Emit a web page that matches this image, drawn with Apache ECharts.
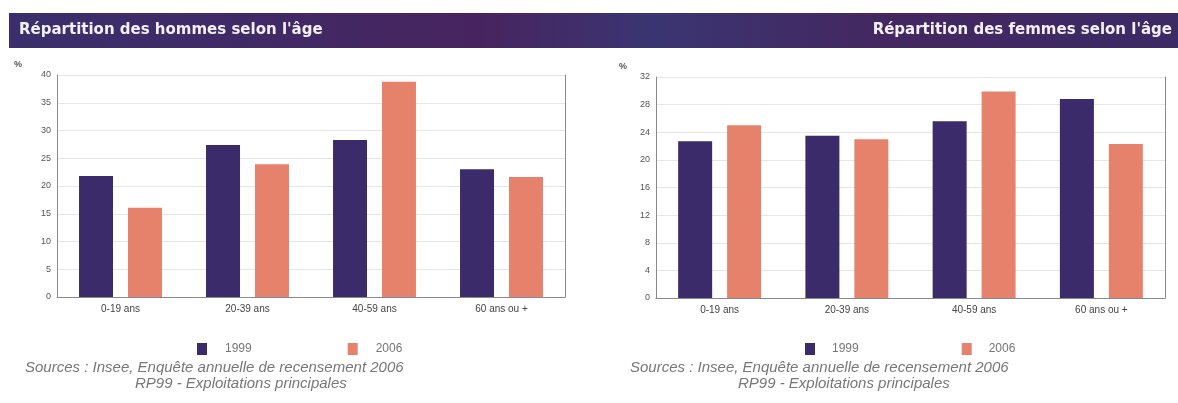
<!DOCTYPE html>
<html>
<head>
<meta charset="utf-8">
<script src="https://cdn.jsdelivr.net/npm/echarts@6/dist/echarts.min.js"></script>
<style>
html,body{margin:0;padding:0;background:#fff;}
#chart{width:1178px;height:403px;}
</style>
</head>
<body>
<div id="chart"></div>
<script>
// ---- data ----
const categoriesMen = ['0-19 ans', '20-39 ans', '40-59 ans', '60 ans ou +'];
const categoriesWomen = ['0-19 ans', '20-39 ans', '40-59 ans', '60 ans ou +'];
const seriesNames = ['1999', '2006'];
const men1999 = [21.8, 27.4, 28.3, 23.0];
const men2006 = [16.1, 23.9, 38.8, 21.6];
const women1999 = [22.7, 23.5, 25.6, 28.8];
const women2006 = [25.0, 23.0, 29.9, 22.3];
const titleMen = "Répartition des hommes selon l'âge";
const titleWomen = "Répartition des femmes selon l'âge";
const sourceLine1 = 'Sources : Insee, Enquête annuelle de recensement 2006';
const sourceLine2 = 'RP99 - Exploitations principales';

const COL_1999 = '#3b2b6b';
const COL_2006 = '#e6826b';

const chart = echarts.init(document.getElementById('chart'), null, {renderer: 'canvas'});

function yAxisBase(gridIndex, max, interval) {
  return {
    type: 'value', gridIndex: gridIndex, min: 0, max: max, interval: interval,
    axisLine: {show: true, lineStyle: {color: '#8a8a8a', width: 1}},
    axisTick: {show: false},
    axisLabel: {color: '#555', fontSize: 9, fontFamily: 'Liberation Sans', margin: 6},
    splitLine: {show: true, lineStyle: {color: '#e6e6e6', width: 1}}
  };
}
function yAxisRight(gridIndex, max, interval) {
  return {
    type: 'value', gridIndex: gridIndex, position: 'right', min: 0, max: max, interval: interval,
    axisLine: {show: true, lineStyle: {color: '#8a8a8a', width: 1}},
    axisTick: {show: false}, axisLabel: {show: false}, splitLine: {show: false}
  };
}
function xAxisBase(gridIndex, cats) {
  return {
    type: 'category', gridIndex: gridIndex, data: cats,
    axisLine: {show: true, lineStyle: {color: '#8a8a8a', width: 1}},
    axisTick: {show: false},
    axisLabel: {color: '#444', fontSize: 10, fontFamily: 'Liberation Sans', margin: 7}
  };
}
function bar(name, data, xi, yi, color) {
  return {
    name: name, type: 'bar', xAxisIndex: xi, yAxisIndex: yi, data: data,
    barWidth: 34, barGap: '44%', itemStyle: {color: color}, silent: true
  };
}
function legend(left, gap, pad, size) {
  return {
    left: left, top: 338, orient: 'horizontal', itemWidth: 10, itemHeight: 12, itemGap: gap,
    icon: 'rect', data: seriesNames, selectedMode: false,
    textStyle: {color: '#777', fontSize: size, fontFamily: 'Liberation Sans', padding: [0, 0, 0, pad]}
  };
}

const option = {
  backgroundColor: '#fff',
  animation: false,
  graphic: [
    {
      type: 'rect', z: 0, silent: true,
      shape: {x: 9, y: 13, width: 1169, height: 35},
      style: {
        fill: new echarts.graphic.LinearGradient(0, 0, 1, 0, [
          {offset: 0, color: '#3a2f6c'},
          {offset: 0.2, color: '#402a66'},
          {offset: 0.4, color: '#47245f'},
          {offset: 0.55, color: '#3a3572'},
          {offset: 0.75, color: '#442760'},
          {offset: 1, color: '#3c2a65'}
        ])
      }
    },
    {type: 'text', z: 5, left: 14, top: 60, silent: true,
     style: {text: '%', fill: '#555', font: 'bold 9px "Liberation Sans"'}},
    {type: 'text', z: 5, left: 619, top: 62, silent: true,
     style: {text: '%', fill: '#555', font: 'bold 9px "Liberation Sans"'}},
    {type: 'text', z: 5, left: 25, top: 360, silent: true,
     style: {text: sourceLine1, fill: '#777', font: 'italic 15px "Liberation Sans"'}},
    {type: 'text', z: 5, left: 135, top: 376, silent: true,
     style: {text: sourceLine2, fill: '#777', font: 'italic 15px "Liberation Sans"'}},
    {type: 'text', z: 5, left: 630, top: 360, silent: true,
     style: {text: sourceLine1, fill: '#777', font: 'italic 15px "Liberation Sans"'}},
    {type: 'text', z: 5, left: 738, top: 376, silent: true,
     style: {text: sourceLine2, fill: '#777', font: 'italic 15px "Liberation Sans"'}}
  ],
  title: [
    {text: titleMen, left: 19, top: 23, z: 10, padding: 0,
     textStyle: {color: '#f4f0f8', fontSize: 15, fontWeight: 'bold', fontFamily: 'DejaVu Sans'}},
    {text: titleWomen, right: 6, top: 23, z: 10, padding: 0,
     textStyle: {color: '#f4f0f8', fontSize: 15, fontWeight: 'bold', fontFamily: 'DejaVu Sans'}}
  ],
  legend: [legend(192, 96, 13, 12), legend(800, 103, 12, 12)],
  grid: [
    {left: 57, right: 613, top: 75, bottom: 106},
    {left: 656, right: 13, top: 77, bottom: 105}
  ],
  xAxis: [xAxisBase(0, categoriesMen), xAxisBase(1, categoriesWomen)],
  yAxis: [yAxisBase(0, 40, 5), yAxisBase(1, 32, 4), yAxisRight(0, 40, 5), yAxisRight(1, 32, 4)],
  series: [
    bar(seriesNames[0], men1999, 0, 0, COL_1999),
    bar(seriesNames[1], men2006, 0, 0, COL_2006),
    bar(seriesNames[0], women1999, 1, 1, COL_1999),
    bar(seriesNames[1], women2006, 1, 1, COL_2006)
  ]
};
chart.setOption(option);
</script>
</body>
</html>
